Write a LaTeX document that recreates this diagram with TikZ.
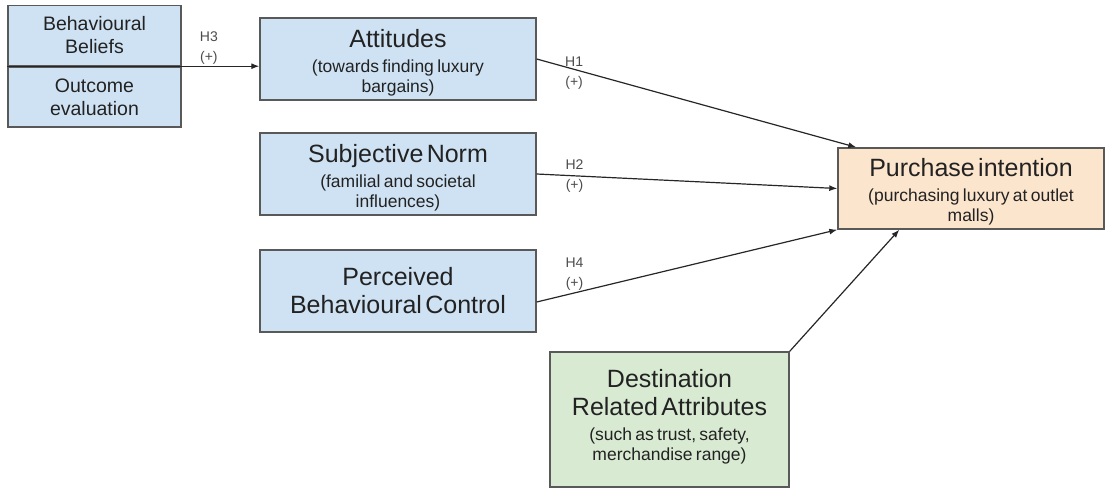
\documentclass[tikz,border=0pt]{standalone}
\usepackage{fontspec}
\setmainfont{Liberation Sans}
\usepackage{tikz}
\usetikzlibrary{arrows.meta,positioning,calc}

\definecolor{boxblue}{HTML}{CFE2F3}
\definecolor{boxorange}{HTML}{FCE5CD}
\definecolor{boxgreen}{HTML}{D9EAD3}
\definecolor{boxline}{HTML}{595959}
\definecolor{inktext}{HTML}{222222}

% title and note of a box; the optional struts nudge the text block
\newcommand{\boxtitle}[2][0pt]{{\fontsize{25}{28}\selectfont\rule{0pt}{#1}#2\par}}
\newcommand{\boxnote}[2][0pt]{\vspace{5pt}{\fontsize{17.5}{20}\selectfont #2\rule[-#1]{0pt}{#1}\par}}

\begin{document}
\begin{tikzpicture}[
  x=1pt, y=-1pt,
  construct/.style={rectangle, draw=boxline, line width=1.4pt, fill=boxblue, text=inktext,
    inner sep=0pt, align=center, minimum width=276pt, text width=262pt, minimum height=82pt},
  belief/.style={construct, minimum width=173pt, text width=160pt, minimum height=60pt,
    font=\fontsize{19.5}{23}\selectfont},
  path link/.style={line width=1.2pt, draw=black!85, -{Latex[length=8pt,width=6pt]}},
  hyp label/.style={font=\fontsize{14}{20}\selectfont, text=black!70, align=center, inner sep=0pt}
]
  \useasboundingbox (0,0) rectangle (1108,488);

  \node[belief] (beliefs) at (94.5,35.5) {Behavioural\\Beliefs};
  \node[belief, below=0pt of beliefs] (outcome) {Outcome\\evaluation};

  \node[construct] (attitudes) at (398,59)
    {\boxtitle[26pt]{Attitudes}\boxnote{(towards finding luxury\\bargains)}};
  \node[construct] (norm) at (398,174)
    {\boxtitle[26pt]{Subjective Norm}\boxnote{(familial and societal\\influences)}};
  \node[construct] (control) at (398,291)
    {\boxtitle{Perceived\\Behavioural Control}};
  \node[construct, fill=boxorange, minimum width=266pt, text width=256pt, minimum height=81pt] (intention) at (971,188.5)
    {\boxtitle[24.5pt]{Purchase intention}\boxnote{(purchasing luxury at outlet\\malls)}};
  \node[construct, fill=boxgreen, minimum width=239pt, text width=228pt, minimum height=135pt] (destination) at (669.5,419.5)
    {\boxtitle{Destination\\Related Attributes}\boxnote[10pt]{(such as trust, safety,\\merchandise range)}};

  % hypotheses
  \draw[path link] (beliefs.south west) -- node[hyp label, pos=0.8, yshift=18pt] {H3\\(+)} (beliefs.south west -| attitudes.west);
  \draw[path link] (attitudes.east) -- node[hyp label, pos=0.117, yshift=-4pt] {H1\\(+)} ($(intention.north west)+(19,0)$);
  \draw[path link] (norm.east) -- node[hyp label, pos=0.126] {H2\\(+)} (intention.west);
  \draw[path link] ($(control.east)+(0,11)$) -- node[hyp label, pos=0.126, yshift=19pt] {H4\\(+)} (intention.south west);
  \draw[path link] (destination.north east) -- ($(intention.south west)+(62,0)$);
\end{tikzpicture}
\end{document}
